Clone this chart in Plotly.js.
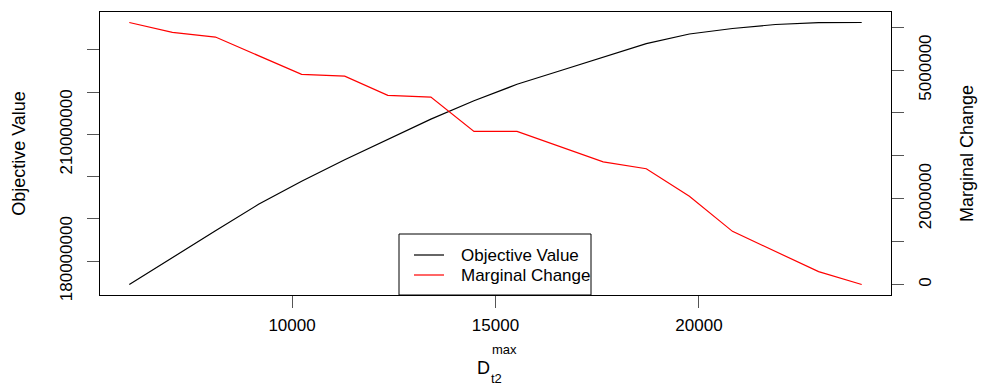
<!DOCTYPE html>
<html>
<head>
<meta charset="utf-8">
<script src="https://cdn.plot.ly/plotly-3.0.1.min.js"></script>
<style>html,body{margin:0;padding:0;background:#fff;}#chart{width:982px;height:385px;}</style>
</head>
<body>
<div id="chart"></div>
<script>
// D_t2^max values
const dMax = [6000, 7059, 8118, 9176, 10235, 11294, 12353, 13412, 14471, 15529, 16588, 17647, 18706, 19765, 20824, 21882, 22941, 24000];
// Objective value
const objectiveValue = [174480000, 180880000, 187200000, 193460000, 198910000, 204030000, 208860000, 213630000, 217960000, 221870000, 225070000, 228320000, 231490000, 233770000, 235070000, 236020000, 236450000, 236500000];
// Marginal change
const marginalChange = [6110000, 5880000, 5770000, 5340000, 4900000, 4860000, 4410000, 4370000, 3570000, 3570000, 3210000, 2860000, 2700000, 2060000, 1240000, 770000, 300000, 0];

const xTickVals = [10000, 15000, 20000];
const xTickText = ["10000", "15000", "20000"];
const leftTickVals = [180000000, 190000000, 200000000, 210000000, 220000000, 230000000];
const leftTickText = ["180000000", "", "", "210000000", "", ""];
const rightTickVals = [0, 1000000, 2000000, 3000000, 4000000, 5000000, 6000000];
const rightTickText = ["0", "", "2000000", "", "", "5000000", ""];
const seriesNames = ["Objective Value", "Marginal Change"];

function padRange(arr) {
  const mn = Math.min(...arr), mx = Math.max(...arr);
  const p = (mx - mn) * 0.04;
  return [mn - p, mx + p];
}

const FONT = "Liberation Sans, Arial, Helvetica, sans-serif";

const traces = [
  {x: dMax, y: objectiveValue, type: "scatter", mode: "lines", name: seriesNames[0],
   line: {color: "#000000", width: 1.2}, yaxis: "y", showlegend: false},
  {x: dMax, y: marginalChange, type: "scatter", mode: "lines", name: seriesNames[1],
   line: {color: "#ff0000", width: 1.2}, yaxis: "y2", showlegend: false}
];

const L = 100, R = 891, T = 12, B = 295;
const px = v => (v - L) / (R - L);
const py = v => (B - v) / (B - T);

const axisCommon = {
  showgrid: false, zeroline: false, showline: true, linecolor: "#000", linewidth: 1,
  ticks: "outside", ticklen: 12, tickcolor: "#555", tickwidth: 1,
  tickfont: {family: FONT, size: 17, color: "#000"}
};

const layout = {
  width: 982, height: 385,
  margin: {l: L, r: 982 - R, t: T, b: 385 - B, pad: 0},
  paper_bgcolor: "#fff", plot_bgcolor: "#fff",
  font: {family: FONT, size: 17, color: "#000"},
  showlegend: false,
  xaxis: Object.assign({}, axisCommon, {
    range: padRange(dMax), tickmode: "array", tickvals: xTickVals, ticktext: xTickText,
    mirror: true, ticklabelstandoff: 3
  }),
  yaxis: Object.assign({}, axisCommon, {
    range: padRange(objectiveValue), tickmode: "array", tickvals: leftTickVals, ticktext: leftTickText,
    tickangle: -90, ticklabelstandoff: 8,
    title: {text: "Objective Value", font: {family: FONT, size: 18, color: "#000"}, standoff: 26}
  }),
  yaxis2: Object.assign({}, axisCommon, {
    range: padRange(marginalChange), tickmode: "array", tickvals: rightTickVals, ticktext: rightTickText,
    tickangle: -90, overlaying: "y", side: "right", ticklabelstandoff: 7,
    title: {text: "Marginal Change", font: {family: FONT, size: 18, color: "#000"}, standoff: 25}
  }),
  shapes: [
    {type: "rect", xref: "paper", yref: "paper", x0: px(399), x1: px(591), y0: py(295), y1: py(234),
     line: {color: "#000", width: 1}, fillcolor: "rgba(255,255,255,1)", layer: "above"},
    {type: "line", xref: "paper", yref: "paper", x0: px(414), x1: px(444), y0: py(255), y1: py(255),
     line: {color: "#000", width: 1.2}},
    {type: "line", xref: "paper", yref: "paper", x0: px(414), x1: px(444), y0: py(275), y1: py(275),
     line: {color: "#ff0000", width: 1.2}}
  ],
  annotations: [
    {xref: "paper", yref: "paper", x: px(459), y: py(255), xanchor: "left", yanchor: "middle",
     text: seriesNames[0], showarrow: false, font: {family: FONT, size: 17, color: "#000"}},
    {xref: "paper", yref: "paper", x: px(459), y: py(275), xanchor: "left", yanchor: "middle",
     text: seriesNames[1], showarrow: false, font: {family: FONT, size: 17, color: "#000"}},
    {xref: "paper", yref: "paper", x: px(483), y: py(368), xanchor: "center", yanchor: "middle",
     text: "D", showarrow: false, font: {family: FONT, size: 18, color: "#000"}},
    {xref: "paper", yref: "paper", x: px(490), y: py(349), xanchor: "left", yanchor: "middle",
     text: "max", showarrow: false, font: {family: FONT, size: 13, color: "#000"}},
    {xref: "paper", yref: "paper", x: px(489), y: py(379), xanchor: "left", yanchor: "middle",
     text: "t2", showarrow: false, font: {family: FONT, size: 13, color: "#000"}}
  ]
};

Plotly.newPlot("chart", traces, layout, {staticPlot: true, displayModeBar: false});
</script>
</body>
</html>
